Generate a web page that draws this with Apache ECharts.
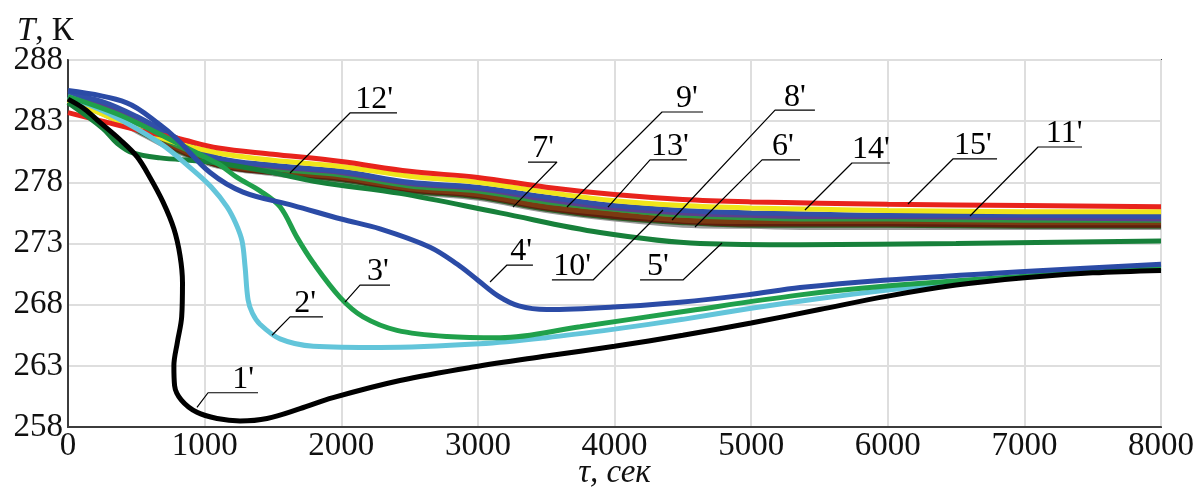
<!DOCTYPE html>
<html><head><meta charset="utf-8">
<script src="https://cdn.jsdelivr.net/npm/echarts/dist/echarts.min.js"></script>
<style>html,body{margin:0;padding:0;background:#fff}#c{width:1194px;height:489px}</style>
</head><body><div id="c"></div>
<script>
// ---- data (τ, sec ; T, K) ----
const curve1 = [[0,284.8],[120,284.0],[234,282.9],[380,281.5],[505,280.1],[600,278.4],[695,276.4],[775,274.2],[820,272.0],[838,269.8],[832,267.0],[800,264.9],[775,263.0],[780,261.4],[830,260.2],[944,259.2],[1091,258.7],[1259,258.5],[1457,258.7],[1698,259.5],[1940,260.4],[2430,261.8],[2965,262.9],[3500,263.8],[4000,264.6],[4500,265.5],[5000,266.5],[5500,267.6],[6000,268.7],[6500,269.6],[7000,270.2],[7500,270.6],[8000,270.8]];
const curve2 = [[0,285.0],[300,283.6],[673,281.2],[915,279.0],[1050,277.6],[1164,276.0],[1230,274.6],[1274,273.2],[1296,271.1],[1318,268.4],[1350,267.3],[1405,266.4],[1552,265.2],[1796,264.6],[2284,264.5],[3016,264.8],[3500,265.3],[4000,266.0],[4500,266.8],[5000,267.7],[5500,268.5],[6000,269.2],[6500,269.8],[7000,270.3],[7500,270.7],[8000,271.0]];
const curve3 = [[0,285.0],[400,283.4],[800,281.2],[1100,279.5],[1237,278.4],[1405,277.3],[1552,276.0],[1676,273.5],[1796,271.4],[1991,268.6],[2160,267.0],[2408,265.9],[2774,265.4],[3162,265.3],[3748,266.2],[4480,267.4],[5359,268.8],[5970,269.5],[6970,270.3],[8000,271.0]];
const curve4 = [[0,285.5],[430,284.5],[673,282.7],[800,281.5],[1040,278.8],[1281,277.2],[1650,276.1],[2000,275.0],[2284,274.2],[2650,272.7],[2850,271.3],[3000,270.0],[3150,268.7],[3300,267.9],[3504,267.6],[3992,267.8],[4480,268.2],[4970,268.8],[5359,269.4],[5970,270.0],[6970,270.7],[8000,271.3]];
const curve5 = [[0,284.5],[256,282.4],[360,281.2],[476,280.4],[673,280.0],[1003,279.7],[1405,279.0],[1845,278.0],[2430,277.1],[3162,275.5],[3894,273.9],[4627,273.0],[5359,272.9],[6500,273.0],[8000,273.2]];
const clusterTau = [0,250,500,800,1100,1500,2000,2500,3000,3500,4000,4500,5000,5500,6000,7000,8000];
const curve6  = [284.7,283.6,282.2,280.5,279.3,278.7,278.1,277.2,276.7,275.7,275.0,274.5,274.4,274.3,274.3,274.3,274.3]; // gray
const curve7  = [284.9,283.9,282.6,280.9,279.6,279.0,278.5,277.6,277.1,276.2,275.6,275.1,274.9,274.9,274.9,274.8,274.8]; // olive
const curve8  = [284.8,283.7,282.4,280.7,279.4,278.8,278.3,277.4,276.9,275.9,275.2,274.8,274.6,274.6,274.6,274.5,274.5]; // maroon
const curve9  = [284.8,283.7,282.3,280.6,279.4,278.8,278.2,277.3,276.8,275.8,275.1,274.7,274.5,274.5,274.5,274.4,274.4]; // dark green
const curve10 = [284.9,283.8,282.5,280.8,279.5,278.9,278.4,277.5,277.0,276.0,275.4,274.9,274.8,274.8,274.8,274.7,274.7]; // brown
const curve11 = [285.0,284.3,283.0,281.3,279.9,279.3,278.8,277.9,277.5,276.6,275.9,275.5,275.3,275.2,275.2,275.1,275.0]; // purple
const curve12 = [285.0,284.0,282.7,281.0,279.7,279.1,278.6,277.7,277.3,276.4,275.8,275.3,275.1,275.0,275.0,274.9,274.9]; // green
const curve13 = [285.2,284.6,283.4,281.6,280.0,279.4,278.9,278.0,277.6,276.8,276.1,275.7,275.5,275.4,275.3,275.3,275.2]; // blue
const curve14 = [284.7,283.6,282.4,281.2,280.4,279.8,279.3,278.5,278.0,277.2,276.5,276.1,275.9,275.8,275.7,275.6,275.6]; // yellow
const curve15 = [283.7,283.0,282.3,281.6,280.8,280.3,279.7,278.9,278.4,277.6,277.0,276.6,276.4,276.3,276.2,276.1,276.0]; // red
const xTicks = [0,1000,2000,3000,4000,5000,6000,7000,8000];
const yTicks = [258,263,268,273,278,283,288];

// ---- annotations (data coords) ----
const labelNames   = ["1'","2'","3'","4'","5'","10'","6'","8'","13'","9'","7'","12'","14'","15'","11'"];
const labelAnchors = [[944,259.6],[1493,265.5],[2027,268.2],[3089,269.85],[4787,273.04],[4355,275.74],[4589,274.35],[4421,274.92],[3952,275.98],[3652,275.98],[3257,275.98],[1625,278.76],[5394,275.74],[6148,276.23],[6602,275.25]];
const labelElbows  = [[1025,260.8],[1625,267.0],[2137,269.6],[3213,271.24],[4501,270.02],[3843,270.02],[5080,279.83],[5175,283.9],[4260,279.83],[4348,283.75],[3579,279.66],[2064,283.67],[5738,279.58],[6477,279.91],[7100,280.89]];
const labelEndTau  = [1391,1866,2357,3403,4187,3542,5358,5467,4530,4648,3367,2408,6016,6800,7422];
const labelTextTau = [1281,1735,2269,3316,4318,3689,5233,5321,4406,4530,3477,2240,5877,6624,7291];

// ---- build ----
const FONT = "'Liberation Serif', 'Times New Roman', 'DejaVu Serif', serif";
const pair = (tau, vals) => tau.map((t, i) => [t, vals[i]]);
const clusterColors = {6:'#9a9a9a',7:'#8a7a2a',8:'#5e1f0d',9:'#2f5e2a',10:'#7b3a12',11:'#5b3f8e',12:'#2e9444',13:'#3150a8',14:'#f0e51a',15:'#e8231c'};
const clusterVals = {6:curve6,7:curve7,8:curve8,9:curve9,10:curve10,11:curve11,12:curve12,13:curve13,14:curve14,15:curve15};
const series = [];
const lineSeries = (name, data, color, z) => ({
  name, type:'line', data, smooth:0.35, symbol:'none', z,
  lineStyle:{color, width:5}, silent:true, animation:false
});
[6,9,8,7,10,12,11,13,14,15].forEach((k, i) => series.push(lineSeries(k + "'", pair(clusterTau, clusterVals[k]), clusterColors[k], 2 + i*0.01)));
series.push(lineSeries("5'", curve5, '#17803a', 3));
series.push(lineSeries("2'", curve2, '#63c5da', 3.1));
series.push(lineSeries("3'", curve3, '#20a04b', 3.2));
series.push(lineSeries("4'", curve4, '#2b4ba6', 3.3));
series.push(lineSeries("1'", curve1, '#000000', 3.4));

labelNames.forEach((n, i) => {
  const e = labelElbows[i];
  series.push({
    type:'line', name:'lead'+i, silent:true, animation:false, symbol:'none', z:5,
    data:[labelAnchors[i], e, [labelEndTau[i], e[1]]],
    lineStyle:{color:'#000', width:1.2}
  });
});
series.push({
  type:'scatter', name:'labels', silent:true, animation:false, z:6,
  symbol:'circle', symbolSize:0, itemStyle:{color:'#000', opacity:1},
  emphasis:{disabled:true},
  data: labelNames.map((n, i) => ({name:n, value:[labelTextTau[i], labelElbows[i][1]]})),
  label:{show:true, position:'top', distance:-3, formatter:'{b}', color:'#000', opacity:1, fontFamily:FONT, fontSize:32, lineHeight:32}
});

const chart = echarts.init(document.getElementById('c'), null, {renderer:'canvas'});
chart.setOption({
  animation:false,
  backgroundColor:'#fff',
  title:{left:12, top:10, text:'{t|T}{k|, К}',
    textStyle:{fontWeight:'normal', rich:{
      t:{fontFamily:FONT, fontSize:33, fontStyle:'italic', fontWeight:'normal', color:'#111'},
      k:{fontFamily:FONT, fontSize:33, fontWeight:'normal', color:'#111'}
    }}},
  grid:{left:68, right:33, top:60, bottom:62, containLabel:false, outerBoundsMode:'none',
    show:true, borderColor:'#3c3c3c', borderWidth:2, backgroundColor:'#fff'},
  xAxis:{type:'value', min:xTicks[0], max:xTicks[xTicks.length-1], interval:1000,
    name:'τ, сек', nameLocation:'middle', nameGap:30, nameMoveOverlap:false,
    nameTextStyle:{fontFamily:FONT, fontSize:33, fontStyle:'italic', color:'#111', lineHeight:33},
    axisLine:{show:true, lineStyle:{color:'#3c3c3c', width:2}},
    axisTick:{show:false},
    splitLine:{show:true, lineStyle:{color:'#dedede', width:2}},
    axisLabel:{fontFamily:FONT, fontSize:33, color:'#111', margin:3, lineHeight:33, formatter:v => String(v)}},
  yAxis:{type:'value', min:yTicks[0], max:yTicks[yTicks.length-1], interval:5,
    axisLine:{show:true, lineStyle:{color:'#3c3c3c', width:2}},
    axisTick:{show:false},
    splitLine:{show:true, lineStyle:{color:'#dedede', width:2}},
    axisLabel:{fontFamily:FONT, fontSize:33, color:'#111', margin:5, formatter:v => String(v)}},
  series
});
</script>
</body></html>
